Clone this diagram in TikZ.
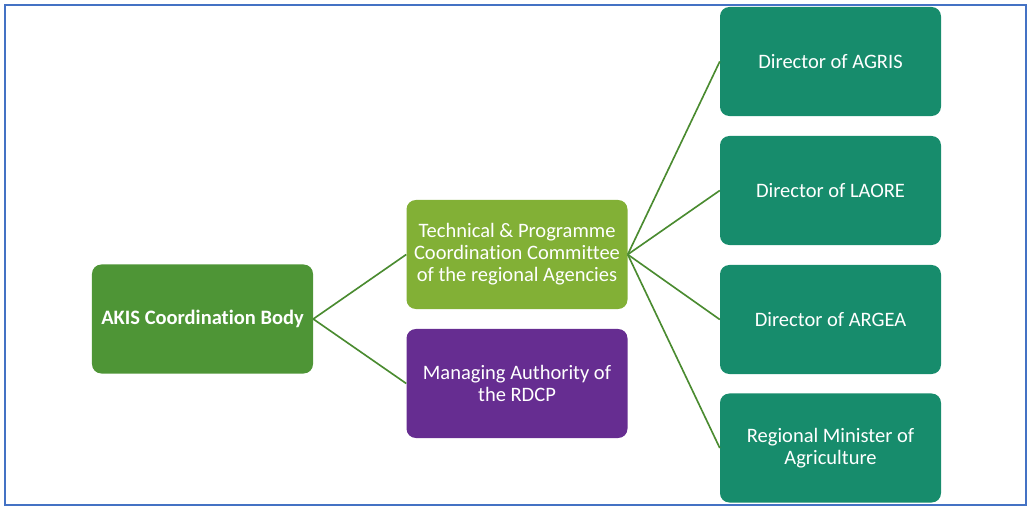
\documentclass[tikz,border=0pt]{standalone}
\usepackage{fontspec}
\setmainfont[Ligatures=NoCommon]{Carlito}
\definecolor{akisgreen}{HTML}{4E9536}
\definecolor{limegreen}{HTML}{82B036}
\definecolor{rdcppurple}{HTML}{662D91}
\definecolor{dirteal}{HTML}{178C6C}
\definecolor{linkgreen}{HTML}{4A8B30}
\definecolor{framblue}{HTML}{4472C4}
\tikzset{
  orgbox/.style={rounded corners=8pt, text=white, align=center,
    minimum width=6.63cm, minimum height=3.27cm, inner sep=2pt},
  link/.style={draw=linkgreen, line width=1.4pt},
}
\begin{document}
\begin{tikzpicture}[x=0.03cm, y=-0.03cm, every node/.style={font=\fontsize{17.5}{18.9}\selectfont}]
  \useasboundingbox (0,0) rectangle (1035,512);
  \draw[framblue, line width=1.3pt] (5,5) rectangle (1026,505);
  % left and middle
  \node[orgbox, fill=akisgreen] (akis) at (202.5,319) {\textbf{AKIS Coordination Body}};
  \node[orgbox, fill=limegreen] (tpc) at (517,254.5) {Technical \& Programme\\Coordination Committee\\of the regional Agencies};
  \node[orgbox, fill=rdcppurple] (ma) at (517,383.5) {Managing Authority of\\the RDCP};
  % right column
  \node[orgbox, fill=dirteal] (agris) at (830.5,61.5) {Director of AGRIS};
  \node[orgbox, fill=dirteal] (laore) at (830.5,190.5) {Director of LAORE};
  \node[orgbox, fill=dirteal] (argea) at (830.5,319.5) {Director of ARGEA};
  \node[orgbox, fill=dirteal] (minister) at (830.5,448) {Regional Minister of\\Agriculture};
  \draw[link] (akis.east) -- (tpc.west);
  \draw[link] (akis.east) -- (ma.west);
  \foreach \n in {agris,laore,argea,minister}
    \draw[link] (tpc.east) -- (\n.west);
\end{tikzpicture}
\end{document}
